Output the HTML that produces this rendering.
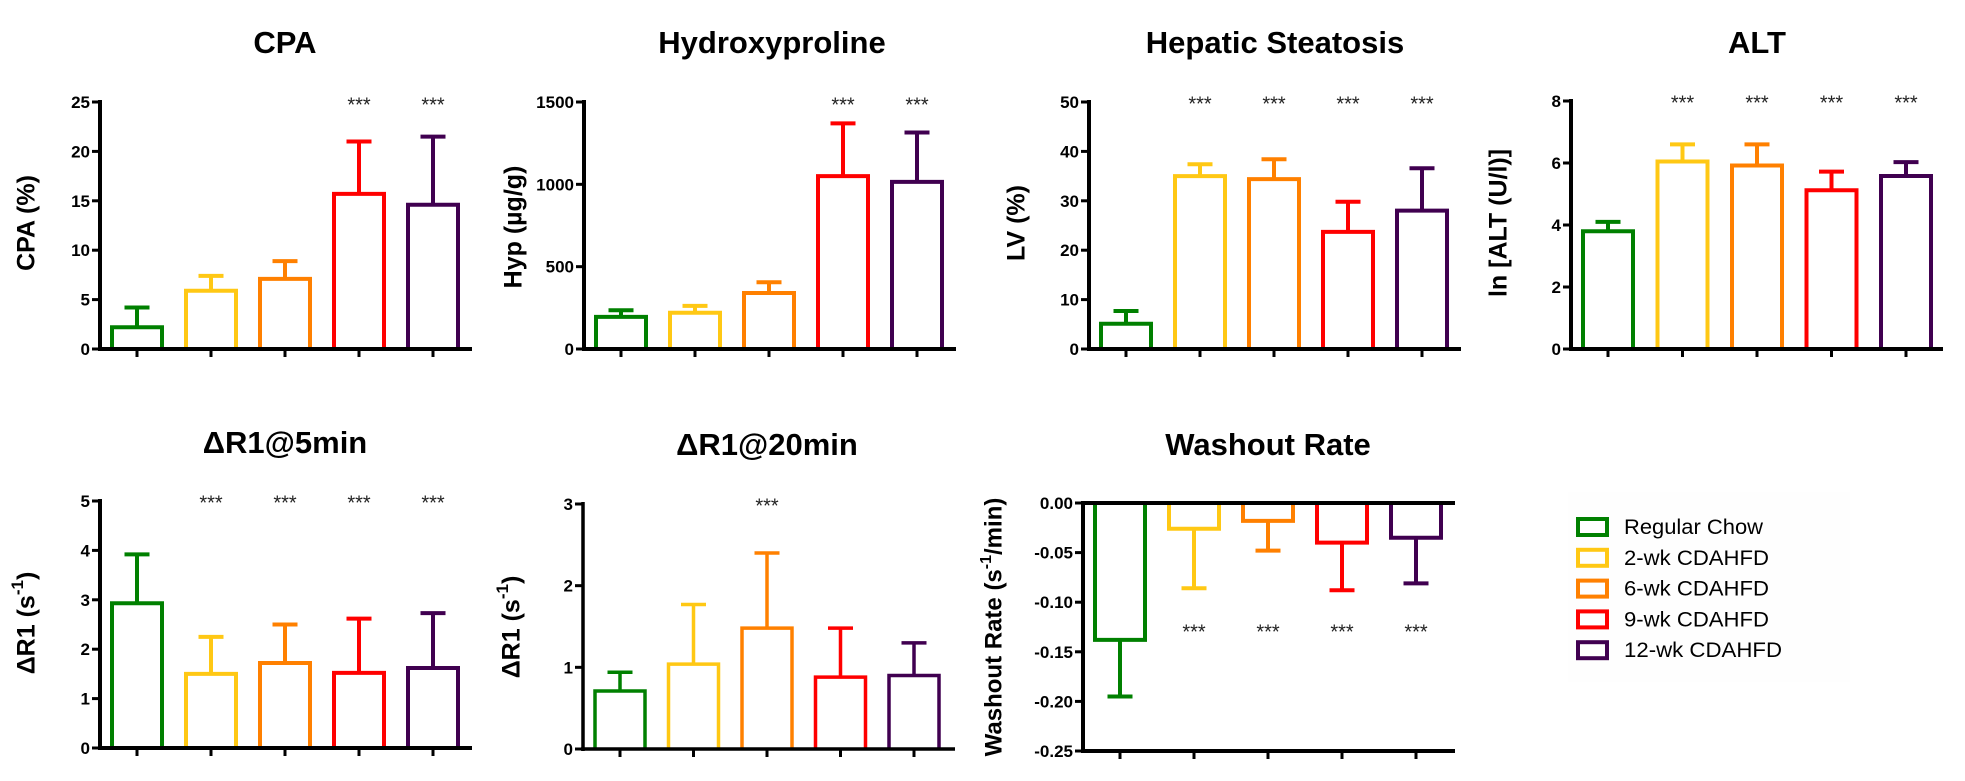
<!DOCTYPE html>
<html><head><meta charset="utf-8"><style>
body{margin:0;background:#fff;width:1965px;height:781px;overflow:hidden}
svg{display:block;font-family:"Liberation Sans",Arial,sans-serif}
</style></head><body>
<svg id="fig" width="1965" height="781" viewBox="0 0 1965 781" xmlns="http://www.w3.org/2000/svg">
<g id="legend"></g>
</svg>
<script>
const groups = ["Regular Chow","2-wk CDAHFD","6-wk CDAHFD","9-wk CDAHFD","12-wk CDAHFD"];
const colors = ["#008000","#FFC814","#FF8000","#FF0000","#400050"];
const cpaMean = [2.2,5.9,7.1,15.7,14.6];
const cpaErr = [4.2,7.4,8.9,21.0,21.5];
const cpaTicks = [0,5,10,15,20,25];
const hypMean = [195,220,340,1050,1015];
const hypErr = [235,262,405,1370,1315];
const hypTicks = [0,500,1000,1500];
const lvMean = [5.1,35.0,34.4,23.7,28.0];
const lvErr = [7.7,37.4,38.4,29.8,36.6];
const lvTicks = [0,10,20,30,40,50];
const altMean = [3.8,6.05,5.92,5.12,5.58];
const altErr = [4.1,6.6,6.6,5.72,6.03];
const altTicks = [0,2,4,6,8];
const r5Mean = [2.93,1.5,1.72,1.52,1.62];
const r5Err = [3.92,2.25,2.5,2.62,2.73];
const r5Ticks = [0,1,2,3,4,5];
const r20Mean = [0.71,1.04,1.48,0.88,0.9];
const r20Err = [0.94,1.77,2.4,1.48,1.3];
const r20Ticks = [0,1,2,3];
const woMean = [-0.138,-0.026,-0.018,-0.040,-0.035];
const woErr = [-0.195,-0.086,-0.048,-0.088,-0.081];
const woTicks = [0,-0.05,-0.10,-0.15,-0.20,-0.25];
const woTickLabels = ["0.00","-0.05","-0.10","-0.15","-0.20","-0.25"];

const NS="http://www.w3.org/2000/svg";
const svg=document.getElementById('fig');
function mk(tag,attrs,parent){const e=document.createElementNS(NS,tag);for(const k in attrs)e.setAttribute(k,attrs[k]);(parent||svg).appendChild(e);return e;}

function panel(p){
  const g=mk('g',{});
  
  
  const ymin=p.ticks.reduce((a,b)=>Math.min(a,b)), ymax=p.ticks.reduce((a,b)=>Math.max(a,b));
  const ys=v=>p.y0+(ymax-v)/(ymax-ymin)*(p.y1-p.y0);
  const xs=i=>p.ax+37+i*p.step;
  const sw=p.sw||4;
  const t=mk('text',{x:p.tx,y:p.ty,'text-anchor':'middle','font-size':31,'font-weight':'bold'},g);
  t.textContent=p.title;
  
  
  const yl=mk('text',{transform:`translate(${p.lx},${p.ly}) rotate(-90)`,'text-anchor':'middle','font-size':p.lfs||25,'font-weight':'bold','dominant-baseline':'middle'},g);
  yl.innerHTML=p.ylabel;
  
  
  p.mean.forEach((m,i)=>{
    const cx=xs(i), c=colors[i];
    const yb=ys(0), ym=ys(m), ye=ys(p.err[i]);
    const bar=mk('path',{d:`M${cx-25},${yb} L${cx-25},${ym} L${cx+25},${ym} L${cx+25},${yb}`,fill:'none',stroke:c,'stroke-width':sw},g);
    
    
    const eb=mk('path',{d:`M${cx},${ym} L${cx},${ye} M${cx-12.5},${ye} L${cx+12.5},${ye}`,fill:'none',stroke:c,'stroke-width':sw},g);
    
    
    if(p.stars[i]){
      const s=mk('text',{x:cx,y:p.sy,'text-anchor':'middle','font-size':20,fill:'#222','dominant-baseline':'middle'},g);
      s.textContent='***';
      
      
    }
  });
  const yb=p.y1, axw=sw;
  const ya=mk('line',{x1:p.ax,y1:p.y0-2,x2:p.ax,y2:p.y1+2,stroke:'#000','stroke-width':axw},g);
  
  
  const xa=mk('line',{x1:p.ax-2,y1:ys(p.xaxisAt),x2:p.ax+372,y2:ys(p.xaxisAt),stroke:'#000','stroke-width':axw},g);
  
  
  if(p.bottomLine){
    const bl=mk('line',{x1:p.ax-2,y1:p.y1,x2:p.ax+372,y2:p.y1,stroke:'#000','stroke-width':axw},g);
    
    
  }
  p.mean.forEach((m,i)=>{
    mk('line',{x1:xs(i),y1:yb,x2:xs(i),y2:yb+8,stroke:'#000','stroke-width':3},g);
  });
  p.ticks.forEach((v,i)=>{
    mk('line',{x1:p.ax-8,y1:ys(v),x2:p.ax,y2:ys(v),stroke:'#000','stroke-width':3},g);
    const tl=mk('text',{x:p.ax-10,y:ys(v)+6,'text-anchor':'end','font-size':17,'font-weight':'bold'},g);
    tl.textContent=p.tickLabels?p.tickLabels[i]:String(v);
    
    
  });
}

panel({name:'cpa',title:'CPA',tx:285,ty:53,ax:100,y0:102,y1:349,step:74,mean:cpaMean,err:cpaErr,ticks:cpaTicks,xaxisAt:0,lx:28,ly:223,ylabel:'CPA (%)',stars:[0,0,0,1,1],sy:106});
panel({name:'hydroxyproline',title:'Hydroxyproline',tx:772,ty:53,ax:584,y0:102,y1:349,step:74,mean:hypMean,err:hypErr,ticks:hypTicks,xaxisAt:0,lx:515,ly:227,ylabel:'Hyp (µg/g)',stars:[0,0,0,1,1],sy:106});
panel({name:'hepatic-steatosis',title:'Hepatic Steatosis',tx:1275,ty:53,ax:1089,y0:102,y1:349,step:74,mean:lvMean,err:lvErr,ticks:lvTicks,xaxisAt:0,lx:1018,ly:223,ylabel:'LV (%)',stars:[0,1,1,1,1],sy:105});
panel({name:'alt',title:'ALT',tx:1757,ty:53,ax:1571,y0:101,y1:349,step:74.5,mean:altMean,err:altErr,ticks:altTicks,xaxisAt:0,lx:1500,ly:223,ylabel:'ln [ALT (U/l)]',stars:[0,1,1,1,1],sy:104});
panel({name:'dr1-5min',title:'ΔR1@5min',tx:285,ty:453,ax:100,y0:501,y1:748,step:74,mean:r5Mean,err:r5Err,ticks:r5Ticks,xaxisAt:0,lx:28,ly:623,ylabel:'ΔR1 (s<tspan baseline-shift="super" font-size="17">-1</tspan>)',stars:[0,1,1,1,1],sy:504});
panel({name:'dr1-20min',title:'ΔR1@20min',tx:767,ty:455,ax:583,y0:504,y1:749,step:73.5,mean:r20Mean,err:r20Err,ticks:r20Ticks,xaxisAt:0,lx:513,ly:627,ylabel:'ΔR1 (s<tspan baseline-shift="super" font-size="17">-1</tspan>)',stars:[0,0,1,0,0],sy:507,sw:3.5});
panel({name:'washout-rate',title:'Washout Rate',tx:1268,ty:455,ax:1083,y0:503,y1:751,step:74,mean:woMean,err:woErr,ticks:woTicks,tickLabels:woTickLabels,xaxisAt:0,bottomLine:true,lx:995,ly:627,lfs:24,ylabel:'Washout Rate (s<tspan baseline-shift="super" font-size="16">-1</tspan>/min)',stars:[0,1,1,1,1],sy:633});

const legendWidths=[139,145,145,145,158];
const lg=document.getElementById('legend');
mk('rect',{x:1568,y:492,width:282,height:190,fill:'#fefefe'},lg);
groups.forEach((name,i)=>{
  const y=527+i*30.8;
  const r=mk('rect',{x:1578,y:y-8,width:29,height:16,fill:'none',stroke:colors[i],'stroke-width':4},lg);
  
  
  const t=mk('text',{x:1624,y:y+7,'font-size':21,fill:'#000',textLength:legendWidths[i],lengthAdjust:'spacingAndGlyphs'},lg);
  t.textContent=name;
  
  
});
</script>
</body></html>
